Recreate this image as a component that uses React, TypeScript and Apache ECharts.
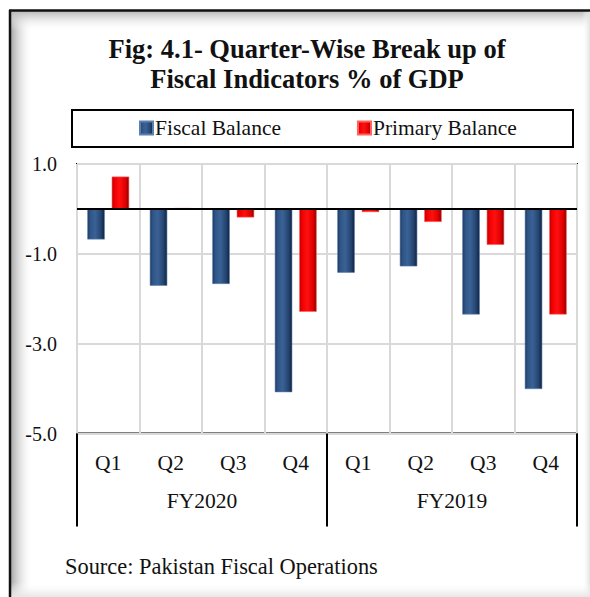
import React, { useEffect, useRef } from "react";
import * as echarts from "echarts";

const groups = ["FY2020", "FY2019"];
const quarters = ["Q1", "Q2", "Q3", "Q4"];
const fiscalBalance = [-0.68, -1.71, -1.67, -4.08, -1.42, -1.28, -2.35, -4.01];
const primaryBalance = [0.72, 0.02, -0.19, -2.29, -0.07, -0.29, -0.8, -2.35];
const seriesNames = ["Fiscal Balance", "Primary Balance"];
const yMin = -5;
const yMax = 1;
const yInterval = 2;

const FONT = "'Liberation Serif', 'DejaVu Serif', serif";

const categories: string[] = [];
groups.forEach((g) => quarters.forEach((q) => categories.push(g + "|" + q)));

export default function App() {
  const ref = useRef<HTMLDivElement>(null);
  useEffect(() => {
    if (!ref.current) return;
    const chart = echarts.init(ref.current, undefined, { renderer: "svg" });
    const blueGrad = new echarts.graphic.LinearGradient(0, 0, 1, 0, [
      { offset: 0, color: "#1a365c" },
      { offset: 0.15, color: "#2f5585" },
      { offset: 0.45, color: "#3a6296" },
      { offset: 0.8, color: "#24446f" },
      { offset: 1, color: "#0f2240" },
    ]);
    const redGrad = new echarts.graphic.LinearGradient(0, 0, 1, 0, [
      { offset: 0, color: "#b80000" },
      { offset: 0.15, color: "#f00000" },
      { offset: 0.45, color: "#ff1010" },
      { offset: 0.8, color: "#e00000" },
      { offset: 1, color: "#8a0000" },
    ]);
    const option: any = {
      animation: false,
      backgroundColor: "#ffffff",
      textStyle: { fontFamily: FONT },
      title: {
        text: "Fig: 4.1- Quarter-Wise Break up of\nFiscal Indicators % of GDP",
        left: 307,
        textAlign: "center",
        top: 34,
        padding: 0,
        textStyle: {
          fontFamily: FONT,
          fontSize: 26.5,
          fontWeight: "bold",
          color: "#111",
          lineHeight: 30,
        },
      },
      graphic: [
        {
          type: "rect",
          shape: { x: 11, y: 11, width: 22, height: 586 },
          style: {
            fill: new echarts.graphic.LinearGradient(0, 0, 1, 0, [
              { offset: 0, color: "#a8a8a8" },
              { offset: 1, color: "rgba(255,255,255,0)" },
            ]),
          },
          silent: true,
          z: -10,
        },
        {
          type: "rect",
          shape: { x: 11, y: 11, width: 579, height: 20 },
          style: {
            fill: new echarts.graphic.LinearGradient(0, 0, 0, 1, [
              { offset: 0, color: "#b8b8b8" },
              { offset: 1, color: "rgba(255,255,255,0)" },
            ]),
          },
          silent: true,
          z: -10,
        },
        {
          type: "rect",
          shape: { x: 582, y: 11, width: 8, height: 586 },
          style: {
            fill: new echarts.graphic.LinearGradient(0, 0, 1, 0, [
              { offset: 0, color: "rgba(255,255,255,0)" },
              { offset: 1, color: "#e2e2e2" },
            ]),
          },
          silent: true,
          z: -10,
        },
        {
          type: "rect",
          shape: { x: 11, y: 582, width: 579, height: 15 },
          style: {
            fill: new echarts.graphic.LinearGradient(0, 0, 0, 1, [
              { offset: 0, color: "rgba(255,255,255,0)" },
              { offset: 1, color: "#e6e6e6" },
            ]),
          },
          silent: true,
          z: -10,
        },
        {
          type: "line",
          shape: { x1: 10, y1: 10, x2: 10, y2: 597 },
          style: { stroke: "#111", lineWidth: 2.5 },
          silent: true,
        },
        {
          type: "line",
          shape: { x1: 9, y1: 10.5, x2: 590, y2: 10.5 },
          style: { stroke: "#111", lineWidth: 2.5 },
          silent: true,
        },
        {
          type: "rect",
          shape: { x: 72, y: 110, width: 501, height: 37 },
          style: { fill: "#fff", stroke: "#000", lineWidth: 2 },
          silent: true,
          z: -5,
        },
        {
          type: "text",
          left: 65,
          top: 555,
          style: {
            text: "Source: Pakistan Fiscal Operations",
            font: "22.4px " + FONT,
            fill: "#111",
          },
        },
      ],
      legend: {
        left: 139,
        top: 117,
        itemGap: 76,
        itemWidth: 13,
        itemHeight: 13,
        icon: "rect",
        padding: 0,
        textStyle: { fontFamily: FONT, fontSize: 21.5, color: "#111", padding: [0, 0, 0, -3] },
        data: seriesNames,
      },
      grid: {
        left: 77,
        right: 13,
        top: 164,
        bottom: 163.5,
        show: true,
        borderColor: "#000",
        borderWidth: 2,
        backgroundColor: "transparent",
        containLabel: false,
      },
      xAxis: [
        {
          type: "category",
          data: categories,
          position: "bottom",
          axisLine: { show: false },
          axisTick: { show: false },
          splitLine: { show: true, interval: 0, lineStyle: { color: "#d9d9d9", width: 2 } },
          axisLabel: {
            interval: 0,
            margin: 18,
            fontFamily: FONT,
            fontSize: 21.5,
            color: "#111",
            formatter: (v: string) => v.split("|")[1],
          },
        },
        {
          type: "category",
          data: groups,
          position: "bottom",
          axisLine: { show: false },
          axisTick: {
            show: true,
            interval: 0,
            length: 93,
            alignWithLabel: false,
            lineStyle: { color: "#000", width: 2 },
          },
          splitLine: { show: false },
          axisLabel: {
            interval: 0,
            margin: 56,
            fontFamily: FONT,
            fontSize: 21.5,
            color: "#111",
          },
        },
      ],
      yAxis: {
        type: "value",
        min: yMin,
        max: yMax,
        interval: yInterval,
        axisLine: { show: false },
        axisTick: { show: false },
        splitLine: { show: true, lineStyle: { color: "#d9d9d9", width: 2 } },
        axisLabel: {
          margin: 20,
          fontFamily: FONT,
          fontSize: 20,
          color: "#111",
          formatter: (v: number) => v.toFixed(1),
        },
      },
      series: [
        {
          name: seriesNames[0],
          type: "bar",
          data: fiscalBalance,
          barGap: "40%",
          barCategoryGap: "33%",
          itemStyle: { color: blueGrad, borderColor: "#5b7fae", borderWidth: 0.6 },
          markLine: {
            silent: true,
            symbol: "none",
            label: { show: false },
            lineStyle: { color: "#000", width: 2, type: "solid" },
            data: [{ yAxis: 0 }],
          },
        },
        {
          name: seriesNames[1],
          type: "bar",
          data: primaryBalance,
          barGap: "40%",
          barCategoryGap: "33%",
          itemStyle: { color: redGrad, borderColor: "#ff6060", borderWidth: 0.6 },
        },
      ],
    };
    chart.setOption(option);
    return () => chart.dispose();
  }, []);
  return (
    <div
      ref={ref}
      style={{ position: "absolute", left: 0, top: 0, width: 590, height: 597 }}
    />
  );
}
